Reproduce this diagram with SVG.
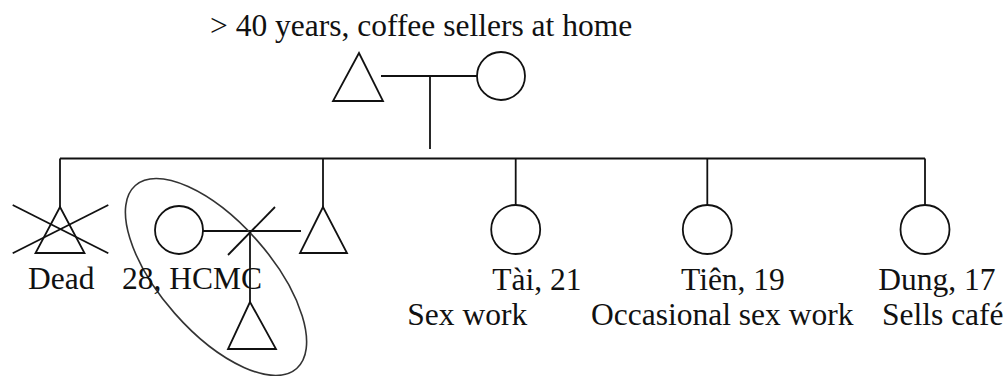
<svg xmlns="http://www.w3.org/2000/svg" width="1005" height="376" viewBox="0 0 1005 376">
<style>
.s{fill:none;stroke:#111;stroke-width:1.8}
.e{fill:none;stroke:#333;stroke-width:1.6}
text{font-family:"Liberation Serif","Times New Roman",serif;font-size:31.5px;fill:#111}
</style>
<rect width="1005" height="376" fill="#fff"/>
<g id="connectors">
<line class="s" x1="381" y1="76" x2="477" y2="76"/>
<line class="s" x1="430" y1="76" x2="430" y2="149"/>
<line class="s" x1="60" y1="158.5" x2="925" y2="158.5"/>
<line class="s" x1="60" y1="158.5" x2="60" y2="207"/>
<line class="s" x1="323" y1="158.5" x2="323" y2="207"/>
<line class="s" x1="515.7" y1="158.5" x2="515.7" y2="205"/>
<line class="s" x1="707.3" y1="158.5" x2="707.3" y2="205"/>
<line class="s" x1="925" y1="158.5" x2="925" y2="205"/>
<line class="s" x1="203" y1="231" x2="301" y2="231"/>
<line class="s" x1="250" y1="231" x2="250" y2="302"/>
</g>
<text id="title" x="210" y="36">&gt; 40 years, coffee sellers at home</text>
<g id="father"><polygon class="s" points="359,53 333,101 383,101"/></g>
<g id="mother"><circle class="s" cx="501" cy="76" r="24"/></g>
<g id="dead">
<polygon class="s" points="60,207 35.5,253 84.5,253"/>
<line class="s" x1="12.7" y1="205" x2="108.3" y2="253.3"/>
<line class="s" x1="108.3" y1="205" x2="12.7" y2="253.3"/>
<text x="28" y="288.5">Dead</text>
</g>
<g id="couple">
<ellipse class="e" cx="216" cy="277" rx="122" ry="55" transform="rotate(48.6 216 277)"/>
<circle class="s" cx="179" cy="230" r="24"/>
<line class="s" x1="228" y1="255" x2="275" y2="207"/>
<polygon class="s" points="250,302 228,349 276,349"/>
<text x="122" y="289">28, HCMC</text>
</g>
<g id="brother"><polygon class="s" points="323,207 300,253 347,253"/></g>
<g id="tai">
<circle class="s" cx="515.7" cy="229.5" r="24.5"/>
<text x="492.3" y="290">Tài, 21</text>
<text x="407.3" y="325">Sex work</text>
</g>
<g id="tien">
<circle class="s" cx="707.3" cy="229.5" r="24.5"/>
<text x="681" y="290">Tiên, 19</text>
<text x="591" y="325">Occasional sex work</text>
</g>
<g id="dung">
<circle class="s" cx="925" cy="229.5" r="24.5"/>
<text x="878.3" y="290">Dung, 17</text>
<text x="882" y="325">Sells café</text>
</g>
</svg>
